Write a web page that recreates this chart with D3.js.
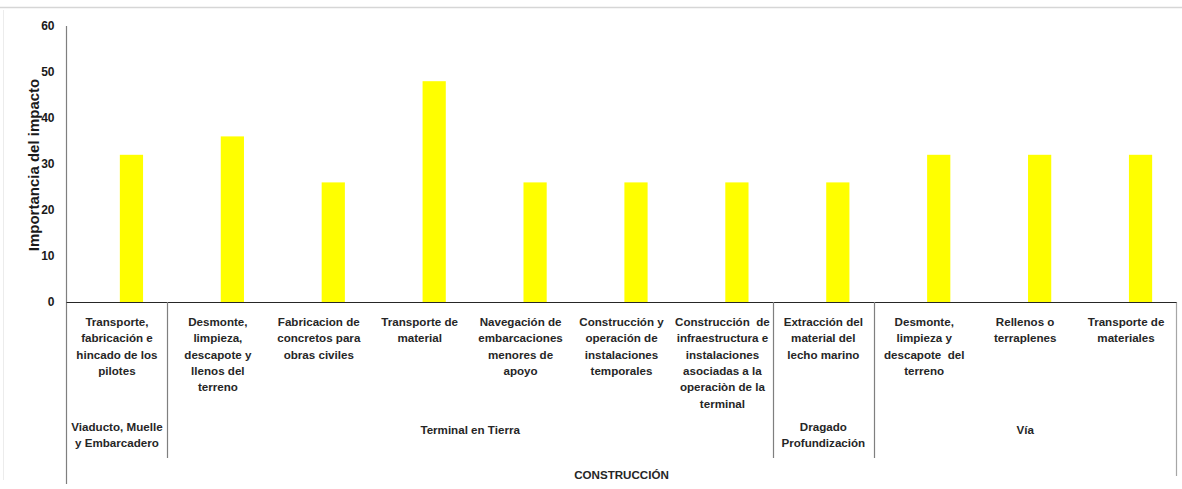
<!DOCTYPE html>
<html>
<head>
<meta charset="utf-8">
<script src="https://cdn.jsdelivr.net/npm/d3@7/dist/d3.min.js"></script>
<style>
  html, body { margin: 0; padding: 0; background: #ffffff; }
  svg { display: block; font-family: "Liberation Sans", Arial, sans-serif; }
</style>
</head>
<body>
<svg id="chart" width="1182" height="489"></svg>
<script>
// ---- data ----
const categories = [
  "Transporte,\nfabricación e\nhincado de los\npilotes",
  "Desmonte,\nlimpieza,\ndescapote y\nllenos del\nterreno",
  "Fabricacion de\nconcretos para\nobras civiles",
  "Transporte de\nmaterial",
  "Navegación de\nembarcaciones\nmenores de\napoyo",
  "Construcción y\noperación de\ninstalaciones\ntemporales",
  "Construcción  de\ninfraestructura e\ninstalaciones\nasociadas a la\noperaciòn de la\nterminal",
  "Extracción del\nmaterial del\nlecho marino",
  "Desmonte,\nlimpieza y\ndescapote  del\nterreno",
  "Rellenos o\nterraplenes",
  "Transporte de\nmateriales"
];
const values = [32, 36, 26, 48, 26, 26, 26, 26, 32, 32, 32];
const groupNames = ["Viaducto, Muelle\ny Embarcadero", "Terminal en Tierra", "Dragado\nProfundización", "Vía"];
const groupSizes = [1, 6, 1, 3];
const topLevel = "CONSTRUCCIÓN";
const yTicks = [0, 10, 20, 30, 40, 50, 60];
const yTitle = "Importancia del impacto";

// ---- layout ----
const svg = d3.select("#chart");
const pLeft = 66.5, pRight = 1176.5, pTop = 26, pBottom = 302;
const barShift = 14.5; // bars sit right of the category centre in the original

const xBand = d3.scaleBand().domain(d3.range(categories.length)).range([pLeft, pRight]).padding(0);
const x = d3.scaleBand().domain(d3.range(categories.length))
  .range([pLeft + barShift, pRight + barShift]).paddingInner(0.77).paddingOuter(0.385);
const y = d3.scaleLinear().domain([0, 60]).range([pBottom, pTop]);

// outer frame hints
svg.append("line").attr("x1", 0).attr("x2", 1182).attr("y1", 7.5).attr("y2", 7.5)
  .attr("stroke", "#d6d6d6").attr("stroke-width", 1.5);
svg.append("line").attr("x1", 3.5).attr("x2", 3.5).attr("y1", 10).attr("y2", 480)
  .attr("stroke", "#ececec").attr("stroke-width", 1);

// bars
svg.append("g").selectAll("rect").data(values).join("rect")
  .attr("x", (d, i) => x(i))
  .attr("width", x.bandwidth())
  .attr("y", d => y(d))
  .attr("height", d => y(0) - y(d))
  .attr("fill", "#ffff00");

// y axis
const yAxis = d3.axisLeft(y).tickValues(yTicks).tickSize(0).tickPadding(12);
const gy = svg.append("g").attr("transform", `translate(${pLeft},0)`).call(yAxis);
gy.select(".domain").remove();
gy.selectAll("text").attr("font-size", 12).attr("font-weight", "bold").attr("fill", "#1a1a1a")
  .attr("font-family", "Liberation Sans, Arial, sans-serif");

// y axis line (extends down through category area)
svg.append("line").attr("x1", pLeft).attr("x2", pLeft).attr("y1", pTop).attr("y2", 484)
  .attr("stroke", "#7f7f7f").attr("stroke-width", 1.2);
// right border of category area
svg.append("line").attr("x1", pRight).attr("x2", pRight).attr("y1", pBottom).attr("y2", 476)
  .attr("stroke", "#a6a6a6").attr("stroke-width", 1.2);
// x axis line
svg.append("line").attr("x1", pLeft).attr("x2", pRight).attr("y1", pBottom + 0.5).attr("y2", pBottom + 0.5)
  .attr("stroke", "#262626").attr("stroke-width", 1.2);

// y title
svg.append("text")
  .attr("transform", `translate(39,${(pTop + pBottom) / 2 + 1}) rotate(-90)`)
  .attr("text-anchor", "middle")
  .attr("font-size", 15).attr("font-weight", "bold").attr("fill", "#1a1a1a")
  .text(yTitle);

// category labels
const lineH = 16.3;
const catG = svg.append("g");
categories.forEach((c, i) => {
  const t = catG.append("text")
    .attr("x", xBand(i) + xBand.bandwidth() / 2)
    .attr("y", 326)
    .attr("text-anchor", "middle")
    .attr("font-size", 11.6).attr("font-weight", "bold").attr("fill", "#262626")
    .attr("xml:space", "preserve");
  c.split("\n").forEach((ln, k) => {
    t.append("tspan").attr("x", xBand(i) + xBand.bandwidth() / 2).attr("dy", k === 0 ? 0 : lineH).text(ln);
  });
});

// group separators and labels
let start = 0;
groupNames.forEach((g, gi) => {
  const n = groupSizes[gi];
  const x0 = xBand(start), x1 = xBand(start + n - 1) + xBand.bandwidth();
  if (start > 0) {
    svg.append("line").attr("x1", Math.round(x0) + 0.5).attr("x2", Math.round(x0) + 0.5)
      .attr("y1", pBottom).attr("y2", 458)
      .attr("stroke", "#7f7f7f").attr("stroke-width", 1.2);
  }
  const lines = g.split("\n");
  const t = svg.append("text")
    .attr("text-anchor", "middle")
    .attr("font-size", 11.6).attr("font-weight", "bold").attr("fill", "#262626")
    .attr("y", lines.length > 1 ? 431 : 434);
  lines.forEach((ln, k) => {
    t.append("tspan").attr("x", (x0 + x1) / 2).attr("dy", k === 0 ? 0 : lineH).text(ln);
  });
  start += n;
});

// top level label
svg.append("text")
  .attr("x", (pLeft + pRight) / 2).attr("y", 479)
  .attr("text-anchor", "middle")
  .attr("font-size", 11.6).attr("font-weight", "bold").attr("fill", "#262626")
  .text(topLevel);
</script>
</body>
</html>
